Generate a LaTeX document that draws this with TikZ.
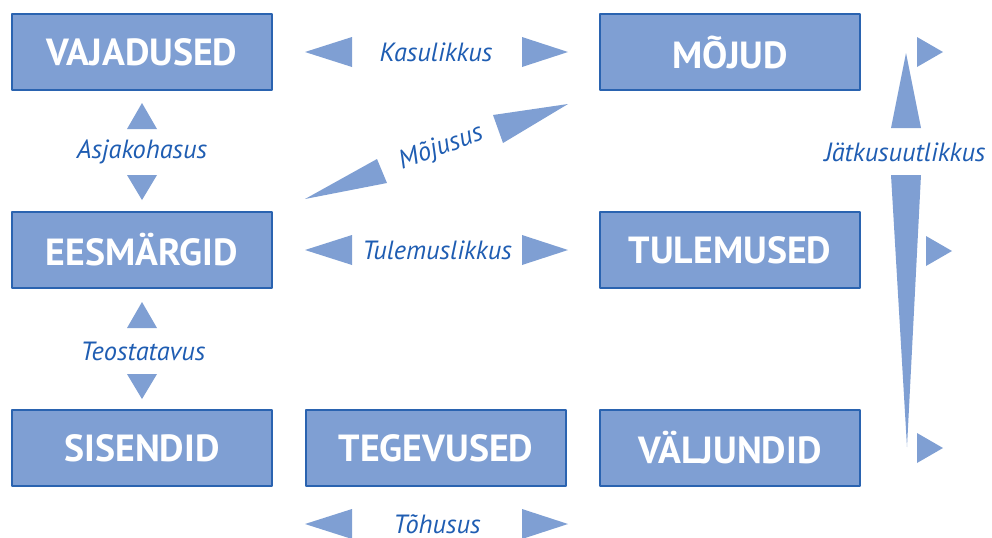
\documentclass[tikz,border=0pt]{standalone}
\usepackage{fontspec}
\setmainfont{PT Sans}
\definecolor{boxfill}{HTML}{7F9FD3}
\definecolor{boxline}{HTML}{2A63B0}
\definecolor{labelblue}{HTML}{1F5DB2}
\tikzset{
  stage/.style={draw=boxline, line width=1.1pt, fill=boxfill, inner sep=0pt,
    minimum width=5.2cm, minimum height=1.52cm, text=white,
    font=\bfseries\fontsize{21.5}{24}\selectfont},
  quality/.style={text=labelblue, inner sep=1pt, font=\itshape\fontsize{15}{17}\selectfont},
  wedge/.style={fill=boxfill, draw=none}
}
\begin{document}
\begin{tikzpicture}[x=0.02cm, y=-0.02cm, line join=round]
  \useasboundingbox (0,0) rectangle (992,538);
  % stages
  \node[stage] (vaj) at (142,52) {VAJADUSED};
  \node[stage] (moj) at (730,52) {MÕJUD};
  \node[stage] (ees) at (142,250) {EESMÄRGID};
  \node[stage] (tul) at (730,250) {TULEMUSED};
  \node[stage] (sis) at (142,448) {SISENDID};
  \node[stage] (teg) at (436,448) {TEGEVUSED};
  \node[stage] (val) at (730,448) {VÄLJUNDID};
  % criteria
  \node[quality] (kas) at (436,52) {Kasulikkus};
  \node[quality] (tlk) at (437,250) {Tulemuslikkus};
  \node[quality] (toh) at (437,524) {Tõhusus};
  \node[quality] (asj) at (142,152) {Asjakohasus};
  \node[quality] (teo) at (143,351) {Teostatavus};
  \node[quality, rotate=20] (mjs) at (441,148) {Mõjusus};
  \node[quality] (jat) at (905,152) {Jätkusuutlikkus};
  % horizontal pairs
  \foreach \y in {52,250,524} {
    \fill[wedge] (305,\y) -- (352,\y-15) -- (352,\y+15) -- cycle;
    \fill[wedge] (568,\y) -- (522,\y-15) -- (522,\y+15) -- cycle;
  }
  % vertical pairs
  \foreach \y in {152,351} {
    \fill[wedge] (142,\y-49) -- (157,\y-23) -- (127,\y-23) -- cycle;
    \fill[wedge] (142,\y+48) -- (157,\y+23) -- (127,\y+23) -- cycle;
  }
  % slanted pair
  \fill[wedge] (305,199) -- (377,159) -- (387,183) -- cycle;
  \fill[wedge] (568,104) -- (493,115) -- (503,143) -- cycle;
  % long vertical wedge
  \fill[wedge] (906,53) -- (921,128) -- (891,128) -- cycle;
  \fill[wedge] (891,175) -- (921,175) -- (907,447) -- cycle;
  % small pointers
  \foreach \x/\y in {917/52, 926/251, 917/448}
    \fill[wedge] (\x,\y-15) -- (\x+26,\y) -- (\x,\y+15) -- cycle;
\end{tikzpicture}
\end{document}
